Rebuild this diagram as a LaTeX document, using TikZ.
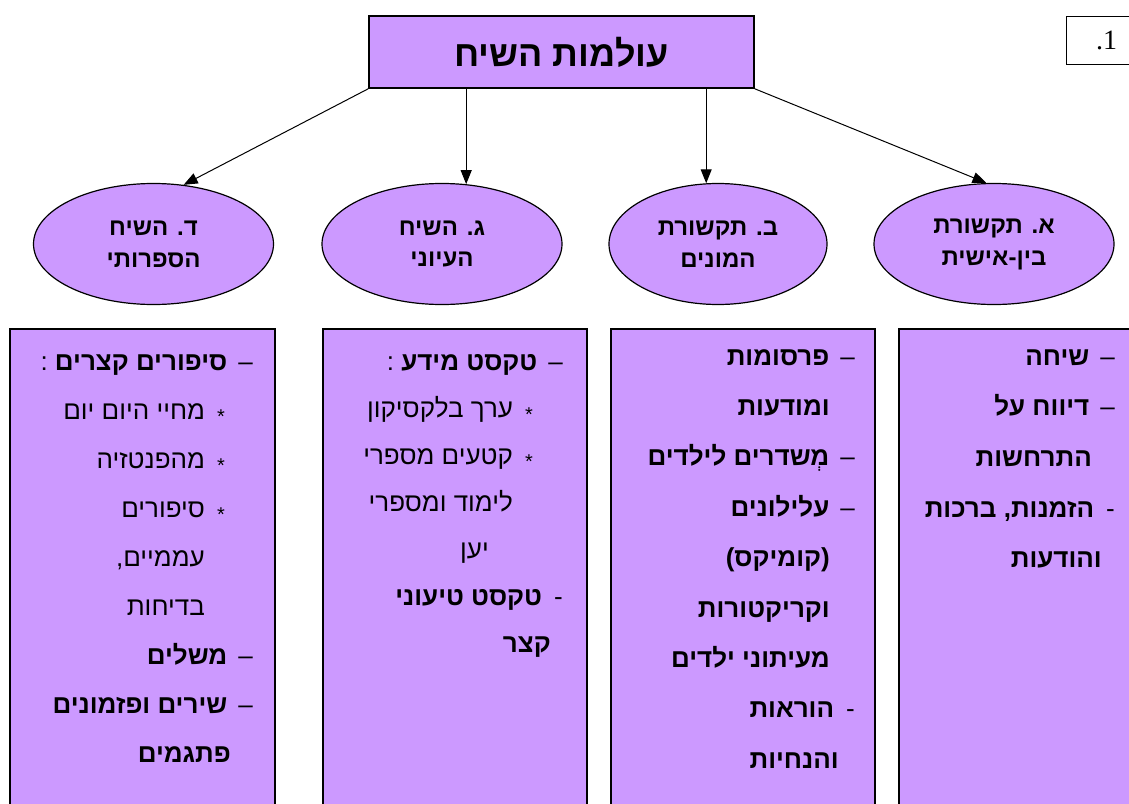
\documentclass[tikz,border=0pt]{standalone}
\usepackage{fontspec}
\setmainfont{Liberation Sans}[Script=Hebrew]
\newfontfamily\numfont{Liberation Serif}
\usetikzlibrary{arrows.meta,shapes.geometric}
\TeXXeTstate=1
\definecolor{lilac}{HTML}{CC99FF}
\newcommand{\heb}[1]{\beginR#1\endR}
\newcommand{\ndash}[1]{\heb{\mdseries –\hspace{11pt}\bfseries #1}}
\newcommand{\hdash}[1]{\heb{\mdseries -\hspace{12pt}\bfseries #1}}
\newcommand{\astitem}[1]{\heb{\mdseries\raisebox{-4.5pt}{\fontsize{20}{20}\selectfont *}\hspace{12pt}#1}}
\begin{document}
\begin{tikzpicture}[x=1pt, y=-1pt,
    topic/.style = {ellipse, draw, line width=1.2pt, fill=lilac, inner sep=0pt,
      minimum width=240pt, minimum height=121pt, align=center,
      font=\fontsize{24}{32}\selectfont\bfseries},
    listbox/.style = {rectangle, draw, line width=1.6pt, fill=lilac,
      anchor=north west, minimum width=265pt, minimum height=490pt},
    listtext/.style = {anchor=north east, inner sep=0pt, align=right},
    arrow/.style = {-{Triangle[length=14pt,width=11pt]}, line width=1pt}]
  \useasboundingbox (0,0) rectangle (1129,803);
  % top of the tree
  \node[rectangle, draw, line width=1.6pt, fill=lilac, minimum width=385pt,
    minimum height=72pt, font=\fontsize{36}{40}\selectfont\bfseries]
    (title) at (561.5,52) {\heb{עולמות השיח}};
  \node[rectangle, draw, line width=1.2pt, anchor=north west, minimum width=80pt,
    minimum height=48pt, font=\fontsize{28}{30}\selectfont\numfont]
    (num) at (1066,16) {.1};
  % the four worlds
  \node[topic] (d) at (153.5,244) {\heb{ד. השיח}\\\heb{הספרותי}};
  \node[topic] (g) at (442,244) {\heb{ג. השיח}\\\heb{העיוני}};
  \node[topic, minimum width=218pt] (b) at (718,244) {\heb{ב. תקשורת}\\\heb{המונים}};
  \node[topic] (a) at (994,244) {\heb{א. תקשורת}\\\heb{בין-אישית}};
  \draw[arrow] (title.south west) -- (d.63);
  \draw[arrow] (g.68 |- title.south) -- (g.68);
  \draw[arrow] (b.101 |- title.south) -- (b.101);
  \draw[arrow] (title.south east) -- (a.97);
  % lists under them
  \node[listbox] (dbox) at (9,328) {};
  \node[listbox, minimum width=264pt] (gbox) at (322,328) {};
  \node[listbox, minimum width=264pt] (bbox) at (610,328) {};
  \node[listbox, minimum width=264pt] (abox) at (898,328) {};
  \node[listtext, font=\fontsize{26}{49}\selectfont\bfseries] (dtext) at (253,335.7)
    {\strut\ndash{סיפורים קצרים {\mdseries :}}\\
     \astitem{מחיי היום יום}\kern28pt\\
     \astitem{מהפנטזיה}\kern28pt\\
     \astitem{סיפורים}\kern28pt\\
     \heb{\mdseries עממיים,}\kern48pt\\
     \heb{\mdseries בדיחות}\kern48pt\\
     \ndash{משלים}\\
     \ndash{שירים ופזמונים}\\
     \heb{פתגמים}\kern22pt};
  \node[listtext, font=\fontsize{26}{47}\selectfont\bfseries] (gtext) at (563,337.1)
    {\strut\ndash{טקסט מידע {\mdseries :}}\\
     \astitem{ערך בלקסיקון}\kern30pt\\
     \astitem{קטעים מספרי}\kern30pt\\
     \heb{\mdseries לימוד ומספרי}\kern50pt\\
     \heb{\mdseries יען}\kern74pt\\
     \hdash{טקסט טיעוני}\\
     \heb{קצר}\kern12pt};
  \node[listtext, font=\fontsize{26}{50.4}\selectfont\bfseries] (btext) at (855,329.7)
    {\strut\ndash{פרסומות}\\
     \heb{ומודעות}\kern25pt\\
     \ndash{מְשדרים לילדים}\\
     \ndash{עלילונים}\\
     \heb{(קומיקס)}\kern25pt\\
     \heb{וקריקטורות}\kern25pt\\
     \heb{מעיתוני ילדים}\kern25pt\\
     \hdash{הוראות}\\
     \heb{והנחיות}\kern16pt};
  \node[listtext, font=\fontsize{26}{50.7}\selectfont\bfseries] (atext) at (1115,329.5)
    {\strut\ndash{שיחה}\\
     \ndash{דיווח על}\\
     \heb{התרחשות}\kern23pt\\
     \hdash{הזמנות, ברכות}\\
     \heb{והודעות}\kern13pt};
\end{tikzpicture}
\end{document}
